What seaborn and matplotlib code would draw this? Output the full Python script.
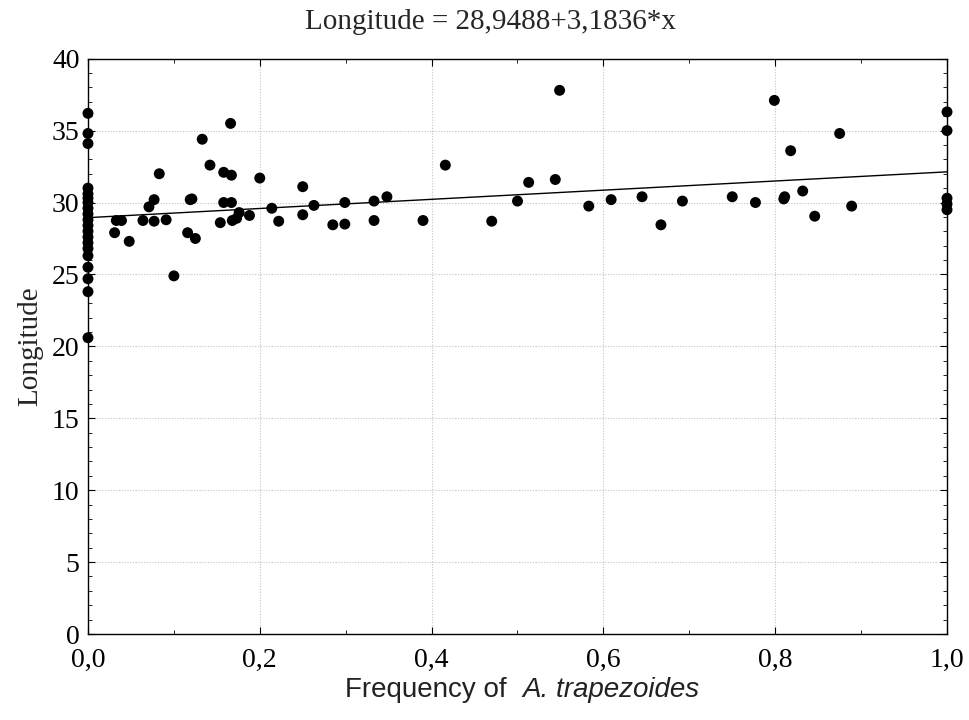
import numpy as np
import pandas as pd
import matplotlib
matplotlib.use("Agg")
import matplotlib.pyplot as plt
import seaborn as sns
from matplotlib.ticker import MultipleLocator, FuncFormatter

# ---- data ----
freq = [
    0.0, 0.0, 0.0, 0.0, 0.0, 0.0, 0.0, 0.0, 0.0, 0.0,
    0.0, 0.0, 0.0, 0.0, 0.0, 0.0, 0.0, 0.0, 0.0, 0.0,
    0.031, 0.033, 0.039, 0.048, 0.064, 0.071, 0.077, 0.077, 0.083, 0.091,
    0.100, 0.116, 0.119, 0.121, 0.125, 0.133, 0.142, 0.154, 0.158, 0.158,
    0.166, 0.167, 0.167, 0.168, 0.173, 0.176, 0.188, 0.200, 0.214, 0.222,
    0.250, 0.250, 0.263, 0.285, 0.299, 0.299, 0.333, 0.333, 0.348, 0.390,
    0.416, 0.470, 0.500, 0.513, 0.544, 0.549, 0.583, 0.609, 0.645, 0.667,
    0.692, 0.750, 0.777, 0.799, 0.810, 0.811, 0.818, 0.832, 0.846, 0.875,
    0.889, 1.0, 1.0, 1.0, 1.0, 1.0,
]
longitude = [
    36.2, 34.8, 34.1, 31.0, 30.6, 30.3, 30.0, 29.6, 29.2, 28.8,
    28.4, 28.0, 27.6, 27.2, 26.8, 26.3, 25.5, 24.7, 23.8, 20.6,
    27.9, 28.75, 28.75, 27.3, 28.75, 29.7, 30.2, 28.7, 32.0, 28.8,
    24.9, 27.9, 30.2, 30.25, 27.5, 34.4, 32.6, 28.6, 32.1, 30.0,
    35.5, 31.9, 30.0, 28.75, 28.9, 29.3, 29.1, 31.7, 29.6, 28.7,
    31.1, 29.15, 29.8, 28.45, 30.0, 28.5, 30.1, 28.75, 30.4, 28.75,
    32.6, 28.7, 30.1, 31.4, 31.6, 37.8, 29.75, 30.2, 30.4, 28.45,
    30.1, 30.4, 30.0, 37.1, 30.25, 30.4, 33.6, 30.8, 29.05, 34.8,
    29.75, 36.3, 35.0, 30.3, 29.9, 29.5,
]
intercept = 28.9488
slope = 3.1836
x_ticks = [0.0, 0.2, 0.4, 0.6, 0.8, 1.0]
y_ticks = [0, 5, 10, 15, 20, 25, 30, 35, 40]
title_text = "Longitude = 28,9488+3,1836*x"
y_label = "Longitude"
x_label_plain = "Frequency of  "
x_label_italic = "A. trapezoides"

df = pd.DataFrame({"freq": freq, "longitude": longitude})
line_x = np.array([0.0, 1.0])
line_df = pd.DataFrame({"freq": line_x, "fit": intercept + slope * line_x})

sns.set_theme(style="white")
plt.rcParams["font.family"] = ["Liberation Serif", "DejaVu Serif"]

fig = plt.figure(figsize=(9.7, 7.2), dpi=100)
ax = fig.add_axes([0.0907, 0.1194, 0.8856, 0.7991])

ax.set_xlim(0, 1)
ax.set_ylim(0, 40)
ax.set_axisbelow(True)
ax.grid(True, which="major", color="#c4c4c4", linestyle=(0, (1, 1.5)), linewidth=0.8)

sns.lineplot(data=line_df, x="freq", y="fit", ax=ax, color="black", linewidth=1.0,
             zorder=2, legend=False)
sns.scatterplot(data=df, x="freq", y="longitude", ax=ax, color="black", s=62,
                edgecolor="none", linewidth=0, zorder=3, clip_on=False, legend=False)

ax.set_xticks(x_ticks)
ax.set_yticks(y_ticks)
ax.xaxis.set_minor_locator(MultipleLocator(0.1))
ax.yaxis.set_minor_locator(MultipleLocator(1))
ax.xaxis.set_major_formatter(FuncFormatter(lambda v, p: f"{v:.1f}".replace(".", ",")))
ax.yaxis.set_major_formatter(FuncFormatter(lambda v, p: f"{int(round(v))}"))
ax.tick_params(which="both", direction="in", top=True, right=True, bottom=True, left=True,
               colors="black")
ax.tick_params(which="major", length=5, width=0.8, labelsize=20)
ax.tick_params(axis="x", which="major", pad=10)
ax.tick_params(axis="y", which="major", pad=6)
ax.tick_params(which="minor", length=3, width=0.6)
for sp in ax.spines.values():
    sp.set_color("black")
    sp.set_linewidth(1.0)

ax.set_ylabel(y_label, fontsize=21, labelpad=6)
ax.set_xlabel("")

# x label with italic species name, sans-serif
lbl_font = {"family": ["Liberation Sans", "DejaVu Sans"], "size": 20}
t1 = fig.text(0.0, 0.0, x_label_plain, fontdict=lbl_font, color="#222222")
t2 = fig.text(0.0, 0.0, x_label_italic, fontdict=lbl_font, style="italic", color="#222222")
fig.canvas.draw()
r = fig.canvas.get_renderer()
w1 = t1.get_window_extent(r).width
w2 = t2.get_window_extent(r).width
cx = 522.0
y_px = 720 - 690
start = cx - (w1 + w2) / 2
t1.set_position((start / 970, y_px / 720))
t2.set_position(((start + w1) / 970, y_px / 720))
t1.set_va("center")
t2.set_va("center")

fig.text(0.506, 0.970, title_text, ha="center", va="center", fontsize=21)

fig.savefig("out.png", dpi=100)
